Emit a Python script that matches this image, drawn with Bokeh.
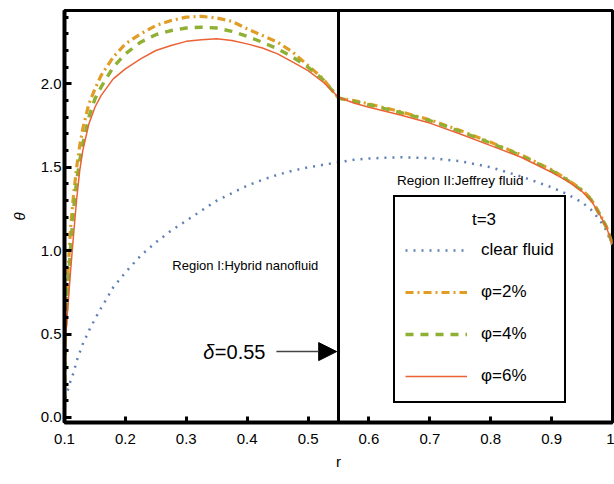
from bokeh.plotting import figure
from bokeh.models import (Range1d, FixedTicker, Span, Label, Arrow, NormalHead,
                          Legend, LegendItem)
from bokeh.embed import file_html
from bokeh.resources import INLINE

# ---------------- data ----------------
r_vals = [0.100, 0.101, 0.102, 0.105, 0.110, 0.115, 0.120, 0.125, 0.130, 0.140,
          0.150, 0.160, 0.180, 0.200, 0.225, 0.250, 0.275, 0.300, 0.325, 0.350,
          0.375, 0.400, 0.425, 0.450, 0.475, 0.500, 0.525, 0.550,
          0.575, 0.600, 0.650, 0.700, 0.750, 0.800, 0.850, 0.900, 0.925, 0.950,
          0.965, 0.980, 0.990, 1.000]

theta_clear = [0.02, 0.10, 0.13, 0.16, 0.22, 0.27, 0.34, 0.39, 0.44, 0.52,
               0.59, 0.655, 0.78, 0.87, 0.97, 1.05, 1.12, 1.18, 1.24, 1.30,
               1.345, 1.39, 1.425, 1.455, 1.48, 1.50, 1.515, 1.53,
               1.545, 1.553, 1.56, 1.555, 1.537, 1.50, 1.445, 1.38, 1.34, 1.29,
               1.245, 1.18, 1.12, 1.03]

theta_phi2 = [0.10, 0.45, 0.62, 0.82, 1.14, 1.34, 1.50, 1.63, 1.73, 1.88,
              1.97, 2.05, 2.16, 2.24, 2.30, 2.35, 2.38, 2.40, 2.405, 2.395,
              2.375, 2.33, 2.29, 2.25, 2.19, 2.11, 2.03, 1.915,
              1.90, 1.88, 1.835, 1.785, 1.72, 1.65, 1.575, 1.485, 1.43, 1.365,
              1.31, 1.215, 1.145, 1.04]

theta_phi4 = [0.10, 0.40, 0.55, 0.74, 1.02, 1.25, 1.42, 1.54, 1.64, 1.80,
              1.91, 1.98, 2.10, 2.18, 2.25, 2.295, 2.32, 2.335, 2.34, 2.335,
              2.315, 2.285, 2.25, 2.21, 2.16, 2.10, 2.025, 1.915,
              1.895, 1.875, 1.83, 1.78, 1.715, 1.645, 1.57, 1.48, 1.425, 1.36,
              1.305, 1.21, 1.14, 1.04]

theta_phi6 = [0.08, 0.30, 0.48, 0.64, 0.88, 1.10, 1.31, 1.48, 1.60, 1.76,
              1.86, 1.93, 2.03, 2.09, 2.15, 2.20, 2.23, 2.255, 2.265, 2.27,
              2.26, 2.24, 2.215, 2.18, 2.13, 2.08, 2.01, 1.92,
              1.885, 1.86, 1.815, 1.765, 1.70, 1.63, 1.56, 1.47, 1.42, 1.355,
              1.30, 1.21, 1.14, 1.04]

series_labels = ["clear fluid", "φ=2%", "φ=4%", "φ=6%"]
legend_title = "t=3"

x_ticks = [0.1, 0.2, 0.3, 0.4, 0.5, 0.6, 0.7, 0.8, 0.9, 1.0]
x_tick_labels = ["0.1", "0.2", "0.3", "0.4", "0.5", "0.6", "0.7", "0.8", "0.9", "1"]
y_ticks = [0.0, 0.5, 1.0, 1.5, 2.0]
y_tick_labels = ["0.0", "0.5", "1.0", "1.5", "2.0"]
y_minor_ticks = [0.1, 0.2, 0.3, 0.4, 0.6, 0.7, 0.8, 0.9, 1.1, 1.2, 1.3, 1.4,
                 1.6, 1.7, 1.8, 1.9, 2.1, 2.2, 2.3, 2.4]

delta = 0.55

# ---------------- figure ----------------
FONT = "Liberation Sans"

p = figure(width=614, height=484, output_backend="svg", toolbar_location=None,
           x_range=Range1d(0.1, 1.0), y_range=Range1d(-0.03, 2.44),
           min_border_left=64, min_border_right=2, min_border_top=10,
           min_border_bottom=62)
p.background_fill_color = "white"
p.border_fill_color = "white"
p.grid.visible = False
p.outline_line_color = "black"
p.outline_line_width = 3
p.outline_line_alpha = 1

# axes
p.xaxis.ticker = FixedTicker(ticks=x_ticks, minor_ticks=[])
p.xaxis.major_label_overrides = dict(zip(x_ticks, x_tick_labels))
p.yaxis.ticker = FixedTicker(ticks=y_ticks, minor_ticks=y_minor_ticks)
p.yaxis.major_label_overrides = dict(zip(y_ticks, y_tick_labels))

for ax in (p.xaxis, p.yaxis):
    ax.axis_line_color = "black"
    ax.axis_line_width = 4
    ax.major_tick_line_color = "black"
    ax.major_tick_line_width = 3
    ax.major_tick_out = 0
    ax.minor_tick_line_color = "black"
    ax.minor_tick_line_width = 3
    ax.minor_tick_out = 0
    ax.major_label_text_font = FONT
    ax.major_label_text_font_size = "15px"
    ax.major_label_text_color = "black"
    ax.axis_label_text_font = FONT
    ax.axis_label_text_font_size = "15px"
    ax.axis_label_text_color = "black"

p.xaxis.major_tick_in = 6
p.xaxis.major_label_standoff = 11
p.xaxis.axis_label = "r"
p.xaxis.axis_label_text_font_style = "normal"
p.xaxis.axis_label_standoff = 6

p.yaxis.major_tick_in = 7
p.yaxis.minor_tick_in = 4
p.yaxis.major_label_standoff = 3
p.yaxis.axis_label = "θ"
p.yaxis.axis_label_text_font_style = "italic"
p.yaxis.axis_label_standoff = 10

# curves
r_clear = p.line(r_vals, theta_clear, line_color="#5E81B5", line_width=2.5,
                 line_dash="2 6")
r_2 = p.line(r_vals, theta_phi2, line_color="#E19C24", line_width=3.2,
             line_dash="8 4 2 4")
r_4 = p.line(r_vals, theta_phi4, line_color="#8FB032", line_width=3.4,
             line_dash="8 7")
r_6 = p.line(r_vals, theta_phi6, line_color="#EB6235", line_width=1.5)

# interface line
p.add_layout(Span(location=delta, dimension="height", line_color="black",
                  line_width=3))

# region labels
p.add_layout(Label(x=0.397, y=0.91, text="Region I:Hybrid nanofluid",
                   text_align="center", text_baseline="middle",
                   text_font=FONT, text_font_size="13px", text_color="black"))
p.add_layout(Label(x=0.750, y=1.42, text="Region II:Jeffrey fluid",
                   text_align="center", text_baseline="middle",
                   text_font=FONT, text_font_size="13.5px", text_color="black"))

# delta annotation
p.add_layout(Label(x=0.430, y=0.395, text="=0.55", text_align="right",
                   text_baseline="middle", text_font=FONT,
                   text_font_size="20px", text_color="black"))
p.add_layout(Label(x=0.430, y=0.395, x_offset=-51, text="δ", text_align="right",
                   text_baseline="middle", text_font=FONT,
                   text_font_size="20px", text_font_style="italic",
                   text_color="black"))
p.add_layout(Arrow(end=NormalHead(size=18, fill_color="black", line_color="black"),
                   x_start=0.448, y_start=0.395, x_end=delta - 0.003, y_end=0.395,
                   line_color="#444444", line_width=1.5))

# legend title text, centred over the legend box
p.add_layout(Label(x=0.789, y=1.19, text=legend_title, text_align="center",
                   text_baseline="middle", text_font=FONT,
                   text_font_size="17px", text_color="black"))

# legend (transparent, title space reserved; nothing is drawn behind it)
legend = Legend(items=[LegendItem(label=series_labels[0], renderers=[r_clear]),
                       LegendItem(label=series_labels[1], renderers=[r_2]),
                       LegendItem(label=series_labels[2], renderers=[r_4]),
                       LegendItem(label=series_labels[3], renderers=[r_6])],
                location=(329, 19), title=" ")
legend.border_line_color = "black"
legend.border_line_width = 2
legend.border_line_alpha = 1
legend.background_fill_alpha = 0
legend.padding = 10
legend.spacing = 12
legend.margin = 0
legend.glyph_width = 62
legend.glyph_height = 30
legend.label_height = 30
legend.label_standoff = 14
legend.label_text_font = FONT
legend.label_text_font_size = "17px"
legend.label_text_color = "black"
legend.title_text_font = FONT
legend.title_text_font_size = "17px"
legend.title_text_font_style = "normal"
legend.title_text_color = "black"
legend.title_standoff = 8
p.add_layout(legend)

open("out.html", "w").write(file_html(p, INLINE))
